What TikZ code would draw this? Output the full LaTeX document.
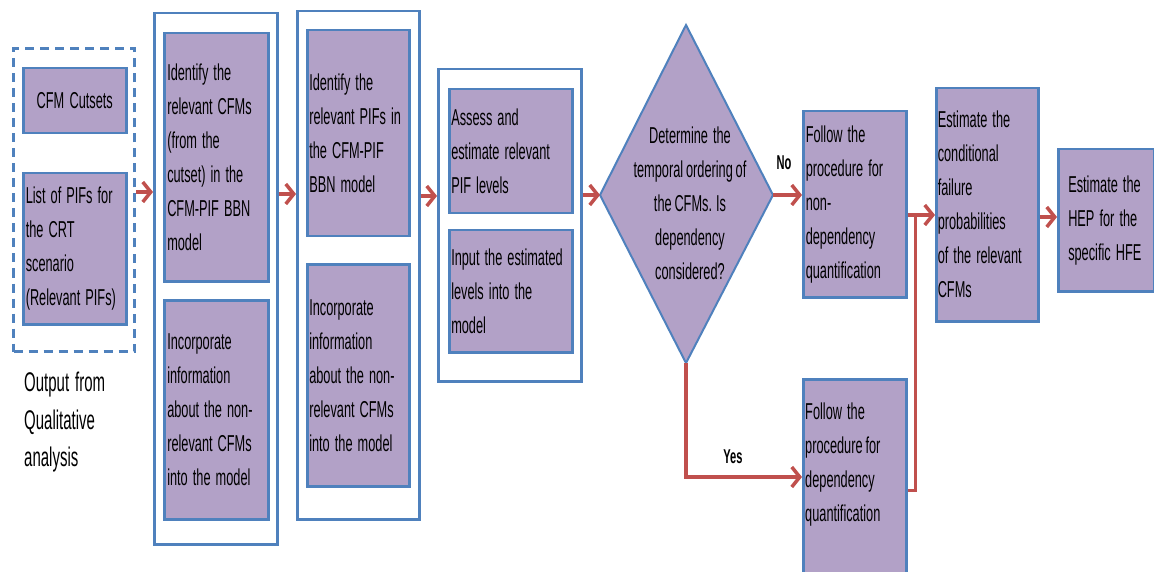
\documentclass[tikz,border=0pt]{standalone}
\usepackage{fontspec}
\setmainfont{Liberation Sans}[FakeStretch=0.555, WordSpace=0.8]
\usetikzlibrary{arrows.meta}
\definecolor{fillp}{HTML}{B2A1C7}
\definecolor{edgeb}{HTML}{4F81BD}
\definecolor{arrr}{HTML}{C0504D}
\newcommand\tsp{\spaceskip=0.22em plus 0.05em\relax}
\tikzset{
 pbox/.style={draw=edgeb, fill=fillp, line width=2.5pt, anchor=north west, inner xsep=0pt, inner ysep=0pt, align=left, font=\fontsize{23}{34}\selectfont},
 obox/.style={draw=edgeb, fill=white, line width=2.5pt, anchor=north west, inner sep=0pt},
 dbox/.style={draw=edgeb, line width=3pt, dash pattern=on 9pt off 6pt, anchor=north west, inner sep=0pt},
 ptext/.style={inner sep=0pt, font=\fontsize{23}{34}\selectfont},
 otext/.style={inner sep=0pt, anchor=north west, align=left, font=\fontsize{27}{37.5}\selectfont},
 arr/.style={draw=arrr, line width=3.5pt, -{Straight Barb[length=8pt,width=20pt]}},
 lnk/.style={draw=arrr, line width=3pt},
 lab/.style={inner sep=0pt, font=\bfseries\fontsize{20}{24}\selectfont},
}
\begin{document}
\begin{tikzpicture}[x=1pt,y=-1pt]
\useasboundingbox (0,0) rectangle (1154,572);
% column 0
\node[dbox, minimum width=121pt, minimum height=303pt] (dash) at (12,47) {};
\node[pbox, minimum width=103pt, minimum height=65pt, text width=97pt, align=center] (cut) at (22,67) {\tsp CFM Cutsets};
\node[pbox, minimum width=103pt, minimum height=151pt, text width=98pt] (pifs) at (22,172) {\tsp List of PIFs for\\the CRT\\scenario\\(Relevant PIFs)};
\node[otext] (outq) at (24,372) {\tsp Output from\\Qualitative\\analysis};
% column 1
\node[obox, minimum width=123pt, minimum height=531pt] (o1) at (153,12) {};
\node[pbox, minimum width=104pt, minimum height=248pt, text width=98pt] (b1a) at (163,32) {\tsp Identify the\\relevant CFMs\\(from the\\cutset) in the\\CFM-PIF BBN\\model};
\node[pbox, minimum width=104pt, minimum height=219pt, text width=98pt] (b1b) at (163,299) {\tsp Incorporate\\information\\about the non-\\relevant CFMs\\into the model};
% column 2
\node[obox, minimum width=122pt, minimum height=508pt] (o2) at (296,10) {};
\node[pbox, minimum width=102pt, minimum height=206pt, text width=98pt] (b2a) at (306,29) {\tsp Identify the\\relevant PIFs in\\the CFM-PIF\\BBN model};
\node[pbox, minimum width=102pt, minimum height=222pt, text width=98pt] (b2b) at (306,263) {\tsp Incorporate\\information\\about the non-\\relevant CFMs\\into the model};
% column 3
\node[obox, minimum width=143pt, minimum height=312pt] (o3) at (437,68) {};
\node[pbox, minimum width=123pt, minimum height=124pt, text width=119pt] (b3a) at (448,88) {\tsp Assess and\\estimate relevant\\PIF levels};
\node[pbox, minimum width=123pt, minimum height=122pt, text width=119pt] (b3b) at (448,229) {\tsp Input the estimated\\levels into the\\model};
% decision
\coordinate (dl) at (600,195);
\coordinate (dt) at (686,25);
\coordinate (dr) at (773,195);
\coordinate (db) at (686,363);
\draw[draw=edgeb, fill=fillp, line width=2pt] (dl) -- (dt) -- (dr) -- (db) -- cycle;
\node[ptext, align=center] (dtext) at (690,203) {\tsp Determine the\\temporal ordering of\\the CFMs. Is\\dependency\\considered?};
% branches
\node[pbox, minimum width=103pt, minimum height=186pt, text width=98pt] (nd) at (802,110) {\tsp Follow the\\procedure for\\non-\\dependency\\quantification};
\node[pbox, minimum width=103pt, minimum height=210pt] (dep) at (802,378) {};
\node[ptext, anchor=west, align=left] (deptext) at (805,465) {\tsp Follow the\\procedure for\\dependency\\quantification};
\node[pbox, minimum width=102pt, minimum height=233pt, text width=99pt] (cond) at (935,87) {\tsp Estimate the\\conditional\\failure\\probabilities\\of the relevant\\CFMs};
\node[pbox, minimum width=96pt, minimum height=142pt, text width=76pt] (hep) at (1057,148) {\tsp Estimate the\\HEP for the\\specific HFE};
% levels
\coordinate (ya1) at (0,192);
\coordinate (ya2) at (0,194);
\coordinate (ya3) at (0,196);
\coordinate (yyes) at (0,477);
\coordinate (yd) at (0,490);
\coordinate (yc) at (0,215);
\coordinate (yh) at (0,217);
\coordinate (junc) at (915,215);
% connectors
\draw[arr] (dash.east |- ya1) -- (o1.west |- ya1);
\draw[arr] (o1.east |- ya2) -- (o2.west |- ya2);
\draw[arr] (o2.east |- ya3) -- (o3.west |- ya3);
\draw[arr] (o3.east |- dl) -- (dl);
\draw[arr] (dr) -- (nd.west |- dr);
\draw[arr] (db) |- (dep.west |- yyes);
\draw[lnk] (dep.east |- yd) -| (junc);
\draw[arr] (nd.east |- yc) -- (cond.west |- yc);
\draw[arr] (cond.east |- yh) -- (hep.west |- yh);
\node[lab] (no) at (784,163) {No};
\node[lab] (yes) at (733,457) {Yes};
\end{tikzpicture}
\end{document}
